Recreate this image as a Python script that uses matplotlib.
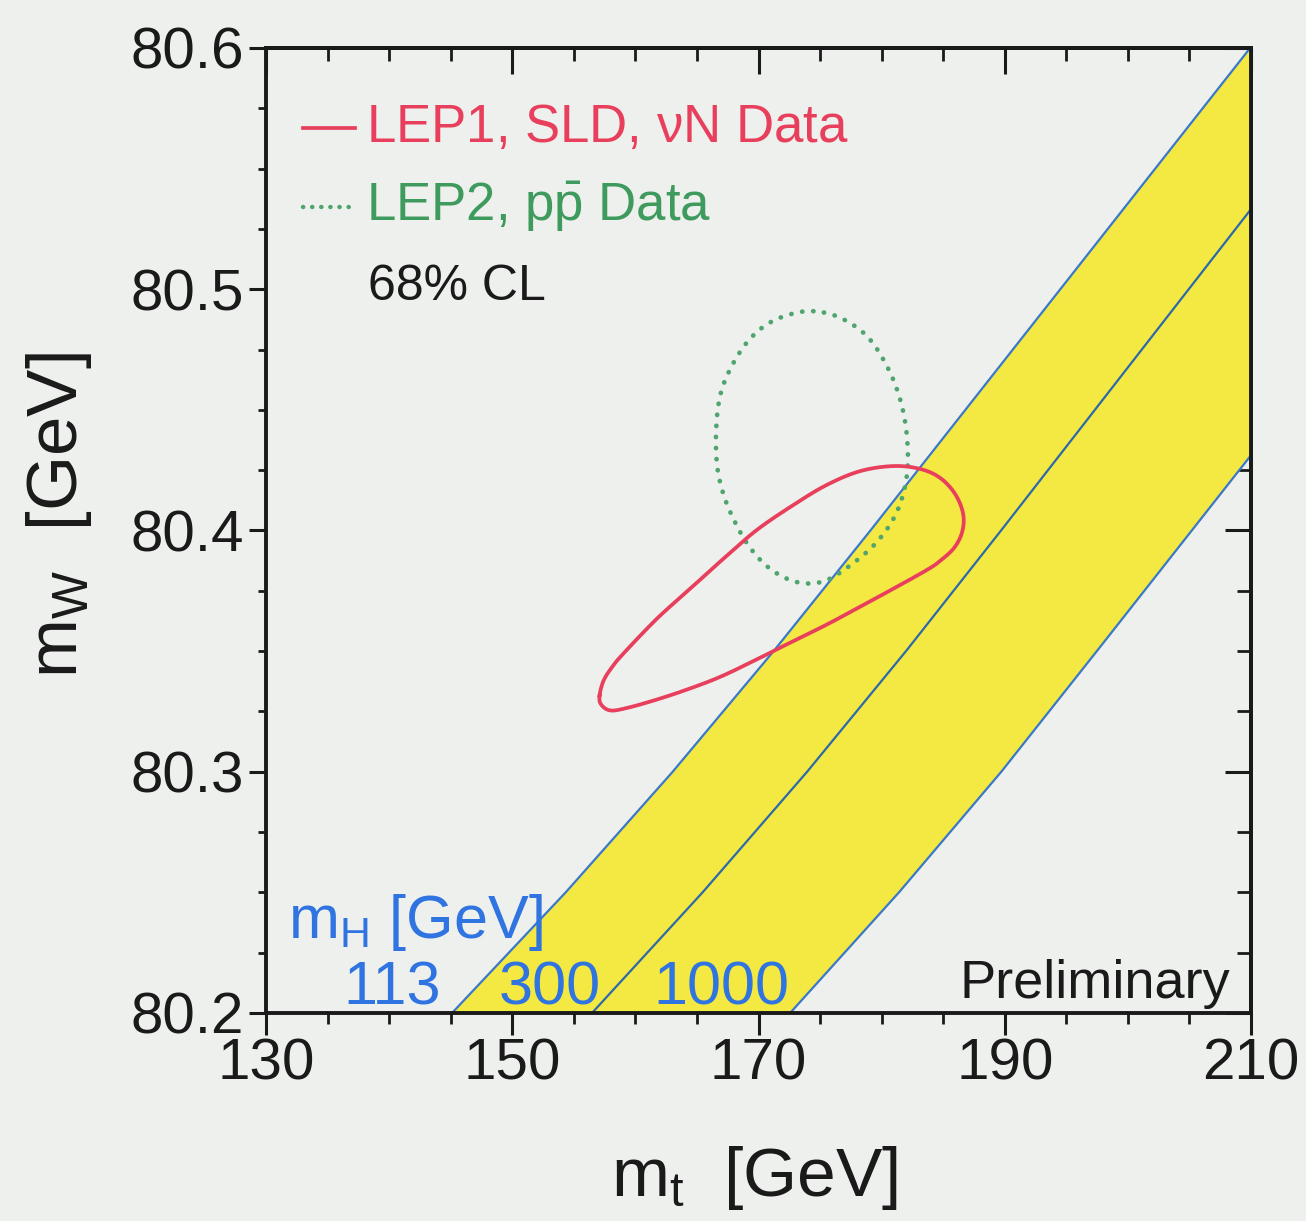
import numpy as np
import matplotlib
matplotlib.use("Agg")
import matplotlib.pyplot as plt
from matplotlib.ticker import MultipleLocator, NullFormatter

plt.rcParams['font.family'] = ['Liberation Sans', 'DejaVu Sans']
plt.rcParams['mathtext.fontset'] = 'custom'
plt.rcParams['mathtext.rm'] = 'Liberation Sans'
plt.rcParams['mathtext.it'] = 'Liberation Sans'
plt.rcParams['mathtext.sf'] = 'Liberation Sans'

# ---- data ----
mh_labels = ["113", "300", "1000"]
# SM prediction lines (mt at given mW) for m_H = 113, 300, 1000 GeV
line113_mw = [80.20, 80.25, 80.30, 80.35, 80.40, 80.45, 80.50, 80.55, 80.60]
line113_mt = [145.11, 154.34, 163.03, 171.23, 179.09, 186.80, 194.51, 202.22, 209.93]
line300_mw = [80.20, 80.25, 80.30, 80.35, 80.40, 80.45, 80.50, 80.55]
line300_mt = [156.48, 165.46, 173.95, 181.98, 189.70, 197.32, 204.94, 212.56]
line1000_mw = [80.20, 80.25, 80.30, 80.35, 80.40, 80.45]
line1000_mt = [172.57, 181.41, 189.72, 197.48, 205.19, 212.90]

# LEP1, SLD, nuN 68% CL contour
red_mt = [157.09, 157.42, 158.11, 159.03, 161.74, 164.44, 167.15, 169.86, 172.84, 175.55,
          178.25, 180.96, 183.13, 184.75, 185.97, 186.62, 186.54, 185.89, 184.75, 183.70,
          180.93, 178.25, 175.55, 172.57, 170.67, 167.15, 164.44, 161.74, 159.30, 157.95,
          157.21]
red_mw = [80.3316, 80.3378, 80.3434, 80.3490, 80.3634, 80.3758, 80.3883, 80.4002, 80.4106, 80.4189,
          80.4246, 80.4267, 80.4255, 80.4218, 80.4151, 80.4069, 80.3994, 80.3928, 80.3874, 80.3837,
          80.3758, 80.3684, 80.3610, 80.3535, 80.3486, 80.3399, 80.3345, 80.3299, 80.3264, 80.3254,
          80.3279]

# LEP2, ppbar 68% CL contour
green_mt = [174.46, 172.57, 170.67, 169.05, 167.69, 166.88, 166.56, 166.61, 167.02,
            167.83, 169.18, 170.94, 173.11, 175.27, 177.44, 179.61, 181.23, 182.05,
            182.05, 181.50, 180.42, 178.80, 176.63]
green_mw = [80.4909, 80.4896, 80.4854, 80.4779, 80.4668, 80.4558, 80.4420, 80.4282, 80.4172,
            80.4062, 80.3938, 80.3841, 80.3786, 80.3789, 80.3855, 80.3952, 80.4076, 80.4227,
            80.4392, 80.4544, 80.4682, 80.4806, 80.4882]

xticks = [130, 150, 170, 190, 210]
yticks = [80.2, 80.3, 80.4, 80.5, 80.6]

# ---- styles ----
bg = '#eef0ee'
yellow = '#f4e942'
blue = '#3a78c8'
red = '#e8405c'
green = '#4fa56d'
txtblue = '#2f74e0'
dark = '#1a1a1a'


def smooth_closed(xs, ys, sx, sy, n=12):
    """Closed Catmull-Rom curve through the traced contour points (drawing only)."""
    p = np.column_stack([np.asarray(xs) / sx, np.asarray(ys) / sy])
    m = len(p)
    out = []
    for i in range(m):
        p0, p1, p2, p3 = p[(i - 1) % m], p[i], p[(i + 1) % m], p[(i + 2) % m]
        for t in np.linspace(0, 1, n, endpoint=False):
            t2, t3 = t * t, t * t * t
            out.append(0.5 * ((2 * p1) + (-p0 + p2) * t + (2 * p0 - 5 * p1 + 4 * p2 - p3) * t2
                              + (-p0 + 3 * p1 - 3 * p2 + p3) * t3))
    out.append(out[0])
    out = np.array(out)
    return out[:, 0] * sx, out[:, 1] * sy


fig = plt.figure(figsize=(13.06, 12.21), dpi=100, facecolor=bg)
ax = fig.add_axes([0.2037, 0.1704, 0.7542, 0.7903], facecolor=bg)
ax.set_xlim(130, 210)
ax.set_ylim(80.2, 80.6)

# band between m_H = 113 and 1000 lines
yy = np.union1d(line113_mw, line1000_mw)
ax.fill_betweenx(yy, np.interp(yy, line113_mw, line113_mt), np.interp(yy, line1000_mw, line1000_mt),
                 color=yellow, lw=0, zorder=1)
ax.plot(line113_mt, line113_mw, color=blue, lw=1.6, zorder=2)
ax.plot(line300_mt, line300_mw, color='#2e6aa8', lw=1.6, zorder=2)
ax.plot(line1000_mt, line1000_mw, color=blue, lw=1.6, zorder=2)

# contours
gx, gy = smooth_closed(green_mt, green_mw, 80.0, 0.4)
ax.plot(gx, gy, color=green, lw=3.4, ls=(0, (0.05, 2.3)), dash_capstyle='round', zorder=3)
rx, ry = smooth_closed(red_mt, red_mw, 80.0, 0.4)
ax.plot(rx, ry, color=red, lw=2.7, zorder=4, solid_joinstyle='round')

# legend-like texts
ax.plot([133.0, 137.2], [80.567, 80.567], color=red, lw=2.7)
ax.text(138.1, 80.567, r'LEP1, SLD, $\nu$N Data', color=red, fontsize=38, va='center', ha='left')
ax.plot([133.0, 137.2], [80.534, 80.534], color=green, lw=3.2, ls=(0, (0.05, 2.0)), dash_capstyle='round')
ax.text(138.1, 80.534, r'LEP2, p$\bar{\rm p}$ Data', color='#3f9a5e', fontsize=38, va='center', ha='left')
ax.text(138.3, 80.501, '68% CL', color=dark, fontsize=36, va='center', ha='left')

# m_H labels
ax.text(131.8, 80.2311, r'm$_{\rm H}$ [GeV]', color=txtblue, fontsize=44, va='baseline', ha='left')
ax.text(136.3, 80.2035, mh_labels[0], color=txtblue, fontsize=44, va='baseline', ha='left')
ax.text(148.9, 80.2035, mh_labels[1], color=txtblue, fontsize=44, va='baseline', ha='left')
ax.text(161.5, 80.2035, mh_labels[2], color=txtblue, fontsize=44, va='baseline', ha='left')
ax.text(208.3, 80.2063, 'Preliminary', color=dark, fontsize=39, va='baseline', ha='right')

# axes styling
for s in ax.spines.values():
    s.set_linewidth(2.8)
    s.set_color(dark)
    s.set_zorder(5)

ax.set_xticks(xticks)
ax.set_yticks(yticks)
ax.set_xticklabels([str(v) for v in xticks])
ax.set_yticklabels([f'{v:.1f}' for v in yticks])
ax.xaxis.set_minor_locator(MultipleLocator(5))
ax.yaxis.set_minor_locator(MultipleLocator(0.025))
ax.tick_params(axis='x', which='major', direction='out', length=16, width=2.2, labelsize=42, pad=2,
               top=False, colors=dark)
ax.tick_params(axis='x', which='minor', direction='out', length=8, width=2.0, top=False, colors=dark)
ax.tick_params(axis='y', which='major', direction='out', length=12, width=2.2, labelsize=42, pad=4,
               right=False, colors=dark)
ax.tick_params(axis='y', which='minor', direction='out', length=6, width=2.0, right=False, colors=dark)

secx = ax.secondary_xaxis('top')
secx.set_xticks(xticks)
secx.xaxis.set_minor_locator(MultipleLocator(5))
secx.xaxis.set_major_formatter(NullFormatter())
secx.tick_params(which='major', direction='in', length=19, width=2.2, colors=dark)
secx.tick_params(which='minor', direction='in', length=9, width=2.0, colors=dark)
secx.spines['top'].set_linewidth(2.8)

secy = ax.secondary_yaxis('right')
secy.set_yticks(yticks)
secy.yaxis.set_minor_locator(MultipleLocator(0.025))
secy.yaxis.set_major_formatter(NullFormatter())
secy.tick_params(which='major', direction='in', length=19, width=2.2, colors=dark)
secy.tick_params(which='minor', direction='in', length=10, width=2.0, colors=dark)
secy.spines['right'].set_linewidth(2.8)

fig.text(0.578, 0.035, r'm$_{\rm t}$  [GeV]', fontsize=50, ha='center', va='center', color=dark)
fig.text(0.045, 0.578, r'm$_{\rm W}$  [GeV]', fontsize=51, ha='center', va='center', rotation=90,
         color=dark)

fig.savefig('out.png', dpi=100, facecolor=bg)
